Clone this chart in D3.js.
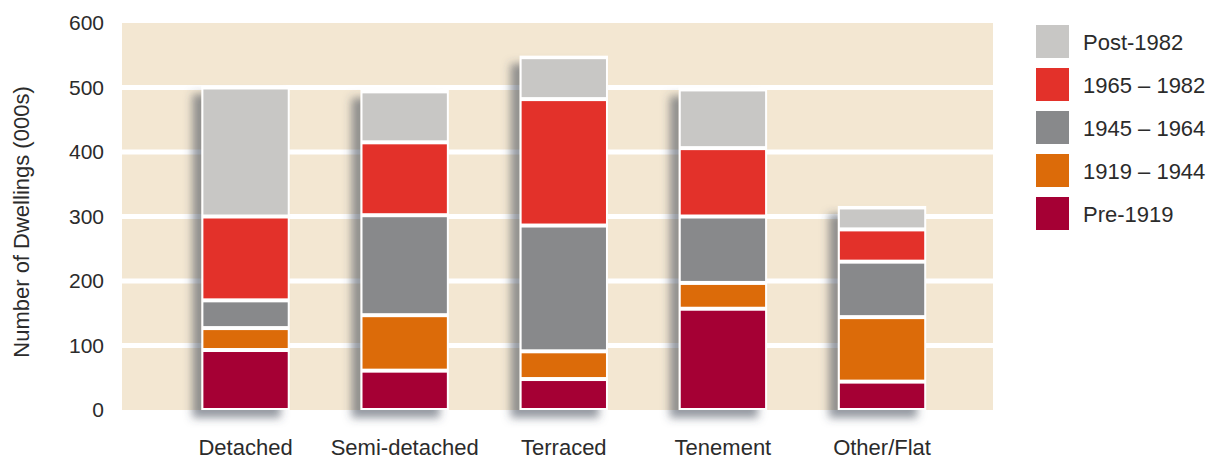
<!DOCTYPE html>
<html>
<head>
<meta charset="utf-8">
<script src="https://cdn.jsdelivr.net/npm/d3@7"></script>
<style>
  body { margin: 0; background: #fff; }
  text { font-family: "Liberation Sans", Arial, sans-serif; fill: #2b2b2b; }
</style>
</head>
<body>
<div id="container"></div>
<script>
// data
const categories = ["Detached", "Semi-detached", "Terraced", "Tenement", "Other/Flat"];
const periods = ["Pre-1919", "1919 \u2013 1944", "1945 \u2013 1964", "1965 \u2013 1982", "Post-1982"];
const pre1919 = [93, 61, 48, 157, 44];
const y1919to1944 = [34, 86, 43, 40, 100];
const y1945to1964 = [43, 155, 195, 103, 86];
const y1965to1982 = [130, 113, 196, 106, 50];
const post1982 = [200, 79, 65, 91, 34];
const yTicks = [0, 100, 200, 300, 400, 500, 600];
const gridTicks = [100, 200, 300, 400, 500];
const colors = ["#a50034", "#dc6b09", "#88898b", "#e3312a", "#c8c7c5"];

// dimensions
const w = 1208;
const h = 460;
const plotLeft = 122;
const plotRight = 993;

// table for the stack
const series = [pre1919, y1919to1944, y1945to1964, y1965to1982, post1982];
const table = categories.map(function(c, i){
    const row = { category: c };
    periods.forEach(function(p, j){ row[p] = series[j][i]; });
    return row;
});
const stacked = d3.stack().keys(periods)(table);

// scales
const xScale = d3.scaleBand()
                 .domain(categories)
                 .range([166, 961.6])
                 .paddingInner(0.47)
                 .paddingOuter(0.235);
const yScale = d3.scaleLinear()
                 .domain([0, 600])
                 .range([410, 23]);
const color = d3.scaleOrdinal().domain(periods).range(colors);

const svg = d3.select("#container")
              .append("svg")
              .attr("width", w)
              .attr("height", h);

// shadow for bars
const defs = svg.append("defs");
defs.append("filter")
    .attr("id", "shadow")
    .attr("x", "-50%").attr("y", "-10%")
    .attr("width", "200%").attr("height", "130%")
    .append("feDropShadow")
    .attr("dx", -9)
    .attr("dy", 8)
    .attr("stdDeviation", 4.5)
    .attr("flood-color", "#3e4656")
    .attr("flood-opacity", 0.55);

// plot background
svg.append("rect")
   .attr("x", plotLeft)
   .attr("y", yScale(600))
   .attr("width", plotRight - plotLeft)
   .attr("height", yScale(0) - yScale(600))
   .attr("fill", "#f3e7d2");

// gridlines
svg.selectAll(".grid")
   .data(gridTicks)
   .enter()
   .append("line")
   .attr("class", "grid")
   .attr("x1", plotLeft)
   .attr("x2", plotRight)
   .attr("y1", (d) => yScale(d))
   .attr("y2", (d) => yScale(d))
   .attr("stroke", "#fff")
   .attr("stroke-width", 5);

// white bar backing with shadow
const totals = table.map((d) => d3.sum(periods, (p) => d[p]));
svg.selectAll(".bar-bg")
   .data(categories)
   .enter()
   .append("rect")
   .attr("class", "bar-bg")
   .attr("x", (d) => xScale(d) - 2)
   .attr("y", (d, i) => yScale(totals[i]) - 1.5)
   .attr("width", xScale.bandwidth() + 4)
   .attr("height", (d, i) => yScale(0) - yScale(totals[i]) + 1.5)
   .attr("fill", "#fff")
   .attr("filter", "url(#shadow)");

// stacked segments
svg.selectAll(".layer")
   .data(stacked)
   .enter()
   .append("g")
   .attr("class", "layer")
   .attr("fill", (d) => color(d.key))
   .selectAll("rect")
   .data((d) => d)
   .enter()
   .append("rect")
   .attr("x", (d) => xScale(d.data.category))
   .attr("y", (d) => yScale(d[1]) + 2)
   .attr("width", xScale.bandwidth())
   .attr("height", (d) => Math.max(0, yScale(d[0]) - yScale(d[1]) - 4));

// axes
const yAxis = d3.axisLeft(yScale)
                .tickValues(yTicks)
                .tickSize(0)
                .tickPadding(18);
svg.append("g")
   .attr("transform", "translate(" + plotLeft + ", 0)")
   .call(yAxis)
   .call((g) => g.select(".domain").remove())
   .selectAll("text")
   .style("font-size", "21px")
   .attr("fill", "#2b2b2b");

const xAxis = d3.axisBottom(xScale)
                .tickSize(0)
                .tickPadding(29);
svg.append("g")
   .attr("transform", "translate(0, " + yScale(0) + ")")
   .call(xAxis)
   .call((g) => g.select(".domain").remove())
   .selectAll("text")
   .style("font-size", "22px")
   .attr("fill", "#2b2b2b");

// y-axis label
svg.append("text")
   .attr("transform", "translate(29, 222)rotate(-90)")
   .style("text-anchor", "middle")
   .style("font-size", "22px")
   .text("Number of Dwellings (000s)");

// legend
const legendOrder = periods.slice().reverse();
legendOrder.forEach(function(p, i){
    svg.append("rect")
       .attr("x", 1036)
       .attr("y", 25 + i * 43)
       .attr("width", 33)
       .attr("height", 33)
       .attr("fill", color(p));

    svg.append("text")
       .attr("x", 1083)
       .attr("y", 42 + i * 43)
       .attr("dy", "0.35em")
       .style("font-size", "22px")
       .text(p);
});
</script>
</body>
</html>
